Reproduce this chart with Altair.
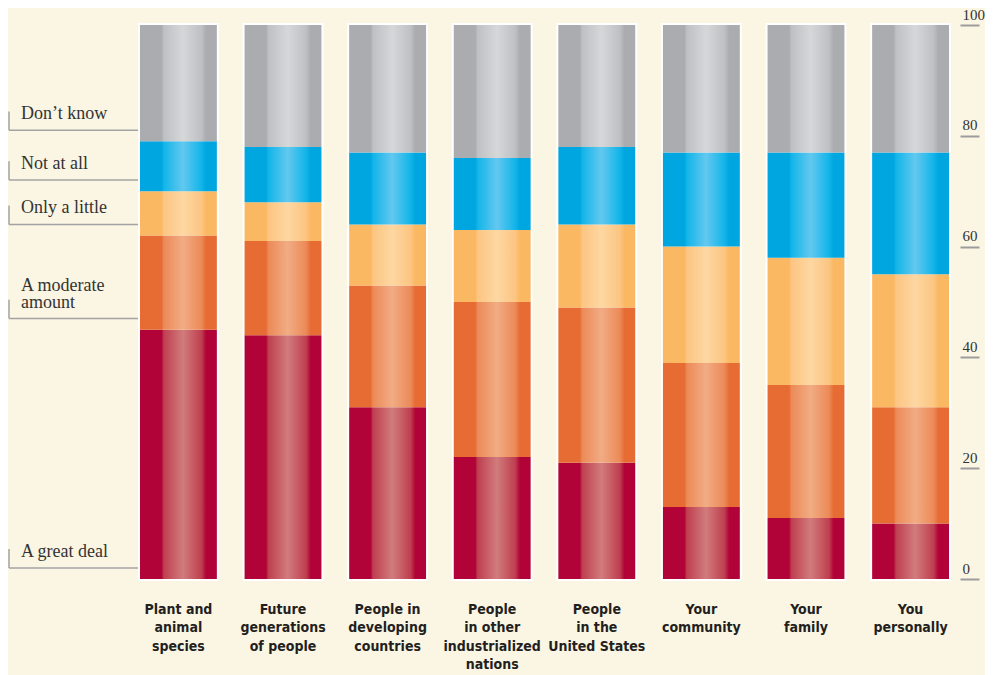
import altair as alt
import pandas as pd

categories = [
    "Plant and|animal|species",
    "Future|generations|of people",
    "People in|developing|countries",
    "People|in other|industrialized|nations",
    "People|in the|United States",
    "Your|community",
    "Your|family",
    "You|personally",
]
responses = ["A great deal", "A moderate amount", "Only a little", "Not at all", "Don’t know"]
great_deal = [45, 44, 31, 22, 21, 13, 11, 10]
moderate = [17, 17, 22, 28, 28, 26, 24, 21]
only_little = [8, 7, 11, 13, 15, 21, 23, 24]
not_at_all = [9, 10, 13, 13, 14, 17, 19, 22]
dont_know = [21, 22, 23, 24, 22, 23, 23, 23]
side_labels = ["A great deal", "A moderate\namount", "Only a little", "Not at all", "Don’t know"]
y_ticks = [0, 20, 40, 60, 80, 100]

series = [great_deal, moderate, only_little, not_at_all, dont_know]
palette = {
    "A great deal": ("#B10337", "#BF3F50", "#D17C7C"),
    "A moderate amount": ("#E66C33", "#EC8A58", "#F1AC84"),
    "Only a little": ("#FBB862", "#FCC582", "#FDD7A2"),
    "Not at all": ("#00A6E0", "#12B5E9", "#63C8EF"),
    "Don’t know": ("#ABACB0", "#BFC0C3", "#D6D7D9"),
}

rows = []
for i, c in enumerate(categories):
    lo = 0
    for r, vals in zip(responses, series):
        rows.append({"category": c, "response": r, "lo": lo, "hi": lo + vals[i]})
        lo += vals[i]
df = pd.DataFrame(rows)
frame_df = pd.DataFrame({"category": categories, "lo": 0, "hi": 100})

first = df[df["category"] == categories[0]].reset_index(drop=True)
ann = pd.DataFrame({
    "label": side_labels,
    "y": first["lo"] + 2,
})
ann["y2"] = ann["y"] + 3.4
ann["nlines"] = ann["label"].str.count("\n") + 1

x_enc = alt.X("category:N", sort=categories, title=None,
              scale=alt.Scale(paddingInner=0.265, paddingOuter=0.105),
              axis=alt.Axis(labelExpr="split(datum.label, '|')", domain=False, ticks=False,
                            labelAngle=0,
                            labelFont="DejaVu Sans Condensed, Roboto Condensed, Roboto, sans-serif",
                            labelFontSize=14, labelFontWeight="bold", labelColor="#231F20",
                            labelLineHeight=18.5, labelPadding=23, labelLimit=300))
y_scale = alt.Scale(domain=[0, 100], nice=False)

line_color = "#A3A3A3"
h_rules = alt.Chart(ann).mark_rule(color=line_color, strokeWidth=1.5).encode(
    x=alt.value(-120), x2=alt.value(12),
    y=alt.Y("y:Q", scale=y_scale),
)
v_rules = alt.Chart(ann).mark_rule(color=line_color, strokeWidth=1.5).encode(
    x=alt.value(-120),
    y=alt.Y("y:Q", scale=y_scale), y2="y2:Q",
)

line_h = 17
text_layers = []
for n in sorted(ann["nlines"].unique()):
    text_layers.append(
        alt.Chart(ann[ann["nlines"] == n]).mark_text(
            align="left", baseline="bottom", dy=-7 - line_h * (int(n) - 1),
            font="Liberation Serif", fontSize=18, color="#333333",
            lineBreak="\n", lineHeight=line_h,
        ).encode(
            x=alt.value(-108),
            y=alt.Y("y:Q", scale=y_scale),
            text="label:N",
        )
    )

frames = alt.Chart(frame_df).mark_bar(fill="white", stroke="white", strokeWidth=4).encode(
    x=x_enc,
    y=alt.Y("lo:Q", scale=y_scale,
            axis=alt.Axis(orient="right", values=y_ticks, title=None, domain=False, grid=False,
                          tickSize=19, tickWidth=2, tickColor="#9C9C9C",
                          labelAlign="left", labelBaseline="alphabetic", labelPadding=-17,
                          labelOffset=-6, labelFont="Liberation Serif", labelFontSize=15,
                          labelColor="#333333")),
    y2="hi:Q",
)

seg_layers = []
for r in responses:
    base, mid, light = palette[r]
    grad = alt.LinearGradient(
        gradient="linear", x1=0, x2=1, y1=0, y2=0,
        stops=[
            alt.GradientStop(offset=0, color=base),
            alt.GradientStop(offset=0.28, color=base),
            alt.GradientStop(offset=0.31, color=mid),
            alt.GradientStop(offset=0.56, color=light),
            alt.GradientStop(offset=0.8, color=mid),
            alt.GradientStop(offset=0.86, color=base),
            alt.GradientStop(offset=1, color=base),
        ],
    )
    seg_layers.append(
        alt.Chart(df[df["response"] == r]).mark_bar(fill=grad).encode(
            x=x_enc,
            y=alt.Y("lo:Q", scale=y_scale),
            y2="hi:Q",
        )
    )

chart = alt.layer(h_rules, v_rules, frames, *seg_layers, *text_layers).properties(
    width=831, height=554,
    autosize=alt.AutoSizeParams(type="none"),
    padding={"left": 121, "top": 17, "right": 25, "bottom": 96},
    background="#FBF5E3",
).configure_view(stroke=None)

chart.save("out.html", embed_options={"renderer": "svg", "actions": False})
